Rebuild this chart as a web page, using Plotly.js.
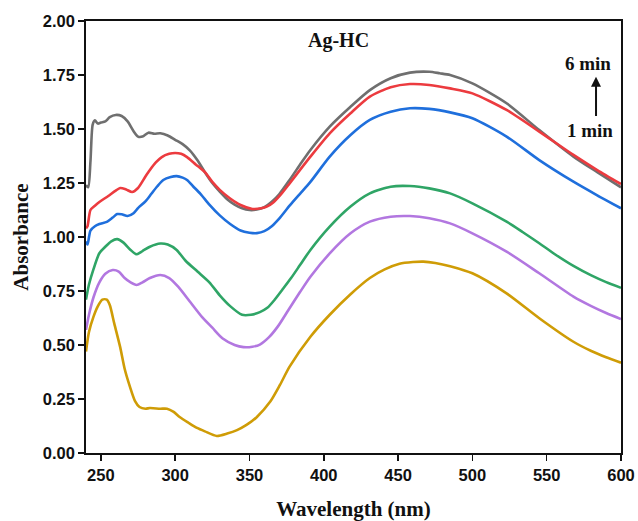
<!DOCTYPE html>
<html>
<head>
<meta charset="utf-8">
<script src="https://cdn.plot.ly/plotly-3.0.1.min.js"></script>
<style>html,body{margin:0;padding:0;background:#fff;}#chart{width:638px;height:521px;}</style>
</head>
<body>
<div id="chart"></div>
<script>
// 6 min (gray)
const wl6 = [240,241.5,243,244.5,246,248,250,253,256,260,264,268,272,275,278,282,286,290,295,300,305,310,315,320,325,330,335,340,345,350,355,360,365,370,377,385,391,404,418,431,445,458,471,478,485,500,523,545,568,584,600];
const abs6 = [1.24,1.23,1.35,1.52,1.54,1.525,1.53,1.535,1.555,1.565,1.56,1.535,1.49,1.465,1.465,1.483,1.478,1.48,1.47,1.45,1.43,1.40,1.355,1.30,1.25,1.21,1.175,1.15,1.133,1.125,1.127,1.138,1.163,1.198,1.264,1.345,1.403,1.511,1.603,1.68,1.735,1.761,1.765,1.758,1.75,1.711,1.619,1.495,1.372,1.30,1.23];
// 5 min (red)
const wl5 = [240,241,243,246,249,255,260,263,267,271,275,280,283,287,291,296,300,304,308,314,320,325,330,337,344,352,358,362,366,371,377,391,404,418,431,445,458,471,485,500,523,545,568,584,600];
const abs5 = [1.04,1.05,1.125,1.145,1.162,1.19,1.215,1.227,1.22,1.208,1.227,1.28,1.31,1.345,1.37,1.385,1.389,1.385,1.37,1.335,1.30,1.255,1.218,1.178,1.148,1.13,1.133,1.142,1.16,1.196,1.248,1.372,1.48,1.573,1.65,1.693,1.708,1.704,1.688,1.665,1.588,1.488,1.38,1.31,1.245];
// 4 min (blue)
const wl4 = [240,241,243,246,249,254,258,261,264,268,272,275,280,284,288,292,297,301,305,308,312,317,323,330,337,344,350,355,360,365,370,377,384,391,404,418,431,445,458,471,485,500,523,545,568,584,600];
const abs4 = [0.98,0.965,1.03,1.05,1.06,1.07,1.09,1.106,1.105,1.097,1.11,1.134,1.165,1.20,1.235,1.264,1.278,1.282,1.275,1.264,1.235,1.20,1.15,1.10,1.06,1.03,1.02,1.018,1.027,1.05,1.085,1.145,1.20,1.255,1.372,1.472,1.542,1.58,1.596,1.593,1.577,1.55,1.465,1.356,1.256,1.193,1.133];
// 3 min (green)
const wl3 = [240,242,245,249,253,257,261,265,270,274,278,283,290,295,301,307,315,323,330,337,345,351,357,362,367,372,378,384,391,404,418,431,445,458,471,485,500,523,534,545,556,568,580,590,600];
const abs3 = [0.71,0.78,0.85,0.925,0.955,0.98,0.99,0.975,0.94,0.92,0.935,0.955,0.97,0.965,0.94,0.89,0.84,0.79,0.73,0.68,0.64,0.64,0.652,0.672,0.71,0.755,0.81,0.87,0.94,1.048,1.141,1.202,1.233,1.236,1.225,1.202,1.156,1.071,1.022,0.971,0.918,0.866,0.822,0.791,0.765];
// 2 min (purple)
const wl2 = [240,242,245,249,253,258,262,266,270,274,278,283,290,296,302,310,318,325,332,340,346,352,357,363,369,376,384,391,404,418,431,445,458,471,485,500,523,545,568,580,590,600];
const abs2 = [0.57,0.64,0.72,0.79,0.83,0.847,0.84,0.81,0.79,0.778,0.79,0.81,0.824,0.81,0.77,0.70,0.63,0.58,0.53,0.50,0.49,0.492,0.502,0.535,0.585,0.66,0.745,0.816,0.924,1.017,1.071,1.094,1.097,1.087,1.063,1.017,0.932,0.832,0.724,0.68,0.648,0.62];
// 1 min (gold)
const wl1 = [240,242,245,248,251,254,256,259,263,266,269.6,273,276,280,283,290,294.5,299,303,309,314.7,320,328,335,341.6,348,355,364,370.5,377,391,404,418,431,441,451,460,467,475,485,500,523,545,568,580,590,600];
const abs1 = [0.47,0.56,0.63,0.68,0.71,0.71,0.685,0.60,0.49,0.39,0.306,0.24,0.213,0.205,0.208,0.205,0.205,0.19,0.167,0.14,0.116,0.10,0.079,0.09,0.106,0.13,0.167,0.238,0.315,0.40,0.538,0.64,0.735,0.81,0.85,0.876,0.884,0.886,0.88,0.865,0.832,0.739,0.624,0.515,0.472,0.443,0.418];

const seriesNames = ['6 min','5 min','4 min','3 min','2 min','1 min'];
const seriesX = [wl6, wl5, wl4, wl3, wl2, wl1];
const seriesY = [abs6, abs5, abs4, abs3, abs2, abs1];
const seriesColors = ['#6f6f6f','#ec3b3f','#1f6fdc','#2fa566','#b277e0','#cf9c06'];

const xTicks = [250,300,350,400,450,500,550,600];
const yTicks = [0,0.25,0.5,0.75,1.0,1.25,1.5,1.75,2.0];

const traces = seriesNames.map((n,i)=>({
  x: seriesX[i], y: seriesY[i], name: n, type:'scatter', mode:'lines',
  line:{color: seriesColors[i], width:2.6, shape:'spline', smoothing:0.7},
  hoverinfo:'skip'
}));

const tickFont = {family:'"Liberation Sans", Arial, sans-serif', size:16.5, color:'#111', weight:'bold'};
const serifBold = '"Liberation Serif", "Times New Roman", serif';

const layout = {
  width:638, height:521,
  margin:{l:86, r:17, t:21, b:68},
  paper_bgcolor:'#fff', plot_bgcolor:'#fff',
  showlegend:false,
  xaxis:{
    range:[240,600], tickvals:xTicks, ticktext:xTicks.map(String),
    ticks:'outside', ticklen:6, tickwidth:1.5, tickcolor:'#111',
    showline:true, linewidth:1.8, linecolor:'#111', mirror:true,
    showgrid:false, zeroline:false,
    tickfont:tickFont,
    title:{text:'<b>Wavelength (nm)</b>', font:{family:serifBold, size:21, color:'#111'}, standoff:24}
  },
  yaxis:{
    range:[0,2], tickvals:yTicks, ticktext:yTicks.map(v=>v.toFixed(2)),
    ticks:'outside', ticklen:6, tickwidth:1.5, tickcolor:'#111',
    showline:true, linewidth:1.8, linecolor:'#111', mirror:true,
    showgrid:false, zeroline:false,
    tickfont:tickFont,
    title:{text:'<b>Absorbance</b>', font:{family:serifBold, size:21, color:'#111'}, standoff:8}
  },
  annotations:[
    {x:409.6, y:1.912, xref:'x', yref:'y', text:'<b>Ag-HC</b>', showarrow:false,
     font:{family:serifBold, size:20, color:'#111'}},
    {x:578, y:1.803, xref:'x', yref:'y', text:'<b>6 min</b>', showarrow:false,
     font:{family:serifBold, size:19, color:'#111'}},
    {x:579, y:1.492, xref:'x', yref:'y', text:'<b>1 min</b>', showarrow:false,
     font:{family:serifBold, size:19, color:'#111'}},
    {x:583.2, y:1.742, xref:'x', yref:'y', ax:583.2, ay:1.553, axref:'x', ayref:'y',
     text:'', showarrow:true, arrowhead:2, arrowsize:1, arrowwidth:2, arrowcolor:'#111'}
  ]
};

Plotly.newPlot('chart', traces, layout, {displayModeBar:false, staticPlot:true});
</script>
</body>
</html>
